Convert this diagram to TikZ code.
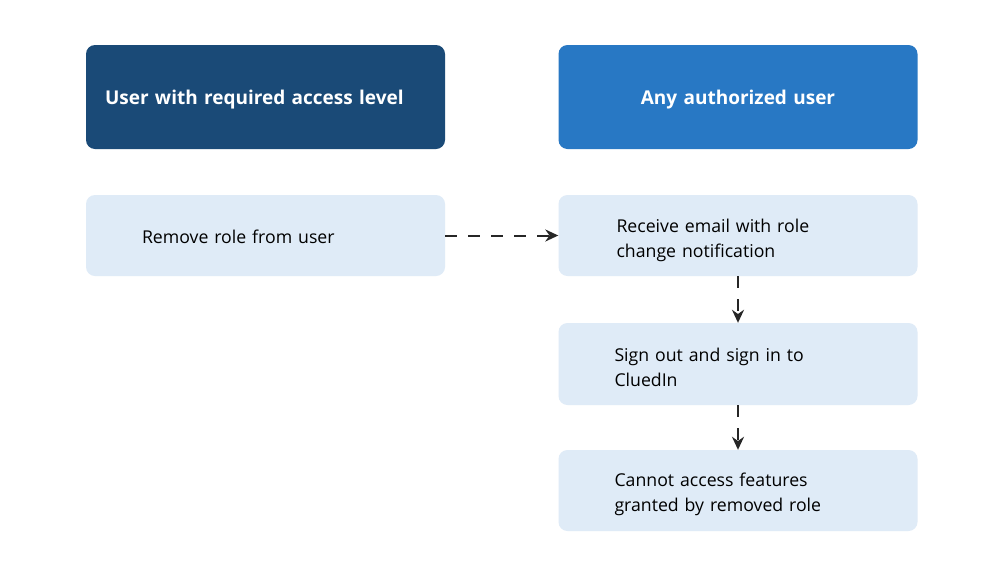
\documentclass[tikz,border=0pt]{standalone}
\usepackage{fontspec}
\setmainfont{Open Sans}
\usetikzlibrary{arrows.meta}
\definecolor{headdark}{HTML}{1A4A77}
\definecolor{headblue}{HTML}{2878C4}
\definecolor{steplight}{HTML}{DFEBF7}
\definecolor{arrowgray}{HTML}{262626}

\begin{document}
\begin{tikzpicture}[x=1pt, y=-1pt,
  head/.style = {shape=rectangle, rounded corners=9pt,
    minimum width=359pt, minimum height=104pt, inner xsep=19pt,
    text width=321pt, text=white, text depth=0pt,
    font=\fontsize{19}{25}\selectfont\bfseries},
  stepbox/.style = {shape=rectangle, rounded corners=9pt, fill=steplight,
    minimum width=359pt, minimum height=81pt, inner xsep=56pt,
    text width=247pt, align=left, text height=20pt,
    font=\fontsize{17.7}{25}\selectfont},
  flow/.style = {draw=arrowgray, line width=2pt, dash pattern=on 12pt off 11pt,
    -{Stealth[length=13pt, width=12pt]}}]
  \fill[white] (0,0) rectangle (1008,584);
  \node[head, fill=headdark, align=left] (who) at (265.5,97) {User with required access level};
  \node[head, fill=headblue, align=center] (any) at (738,97) {Any authorized user};
  \node[stepbox, text height=17pt] (remove) at (265.5,235.5) {Remove role from user};
  \node[stepbox, text height=24pt, inner xsep=58pt, text width=243pt] (email) at (738,235.5) {Receive email with role\\change notification};
  \node[stepbox, minimum height=82pt] (signin) at (738,364) {Sign out and sign in to\\CluedIn};
  \node[stepbox, text height=22pt] (denied) at (738,490.5) {Cannot access features\\granted by removed role};
  \draw[flow] (remove) -- (email);
  \draw[flow] (email) -- (signin);
  \draw[flow] (signin) -- (denied);
\end{tikzpicture}
\end{document}
